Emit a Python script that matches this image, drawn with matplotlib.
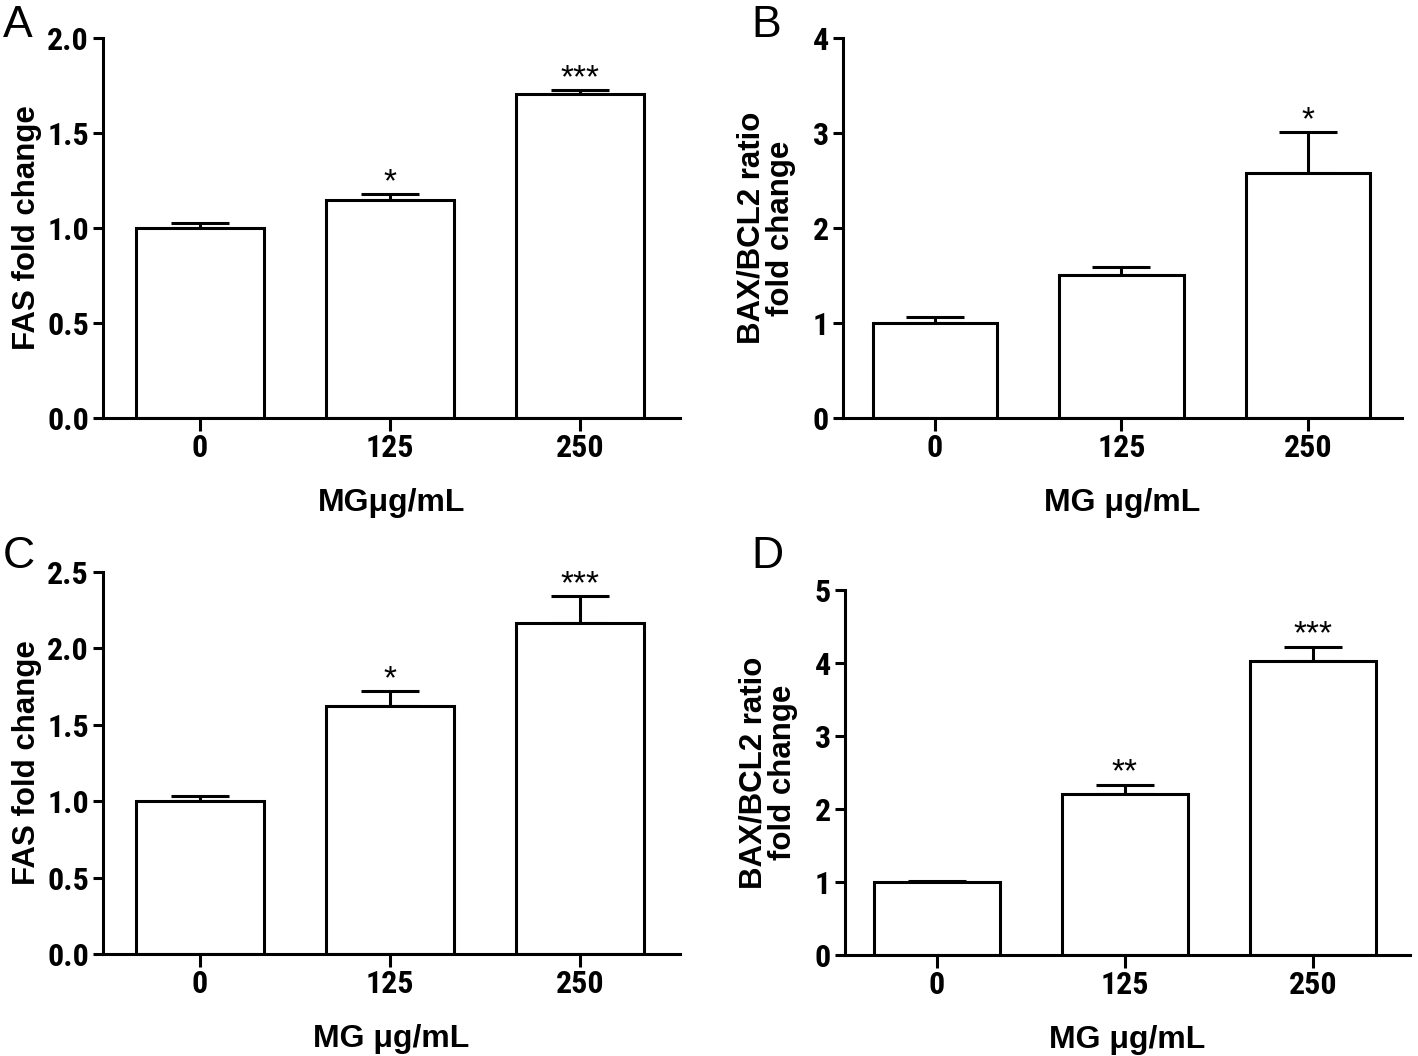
import matplotlib
matplotlib.use('Agg')
import matplotlib.pyplot as plt
from matplotlib import font_manager
import numpy as np

W, H = 1418, 1056

doses = ['0', '125', '250']

# panel A - FAS fold change
fas_a = [1.0, 1.145, 1.705]
fas_a_err = [0.025, 0.035, 0.023]
fas_a_sig = ['', '*', '***']

# panel B - BAX/BCL2 ratio
bax_b = [1.0, 1.5, 2.58]
bax_b_err = [0.06, 0.09, 0.43]
bax_b_sig = ['', '', '*']

# panel C - FAS fold change
fas_c = [1.0, 1.625, 2.165]
fas_c_err = [0.035, 0.095, 0.178]
fas_c_sig = ['', '*', '***']

# panel D - BAX/BCL2 ratio
bax_d = [1.0, 2.205, 4.025]
bax_d_err = [0.02, 0.13, 0.2]
bax_d_sig = ['', '**', '***']

LABFONT = ['Liberation Sans', 'DejaVu Sans']

# condensed font for tick labels if there is one
TICKFONT, TICKSIZE = LABFONT, 21
for fam in ['Liberation Sans Narrow', 'Roboto Condensed', 'Open Sans Condensed']:
    try:
        font_manager.findfont(font_manager.FontProperties(family=fam), fallback_to_default=False)
        TICKFONT, TICKSIZE = [fam] + LABFONT, 23
        break
    except Exception:
        pass
LW = 2.2


def make_axes(box, xlim):
    # box in pixels: left, top, right, bottom
    l, t, r, b = box
    ax = fig.add_axes([l / W, 1 - b / H, (r - l) / W, (b - t) / H])
    ax.set_xlim(*xlim)
    return ax


def draw_panel(ax, vals, errs, sig, ylim, yticks, yfmt, ylabel, xlabel, ylabpad, width):
    x = np.arange(len(vals))
    ax.errorbar(x, vals, yerr=[np.zeros(len(errs)), errs], fmt='none', ecolor='black',
                elinewidth=LW, capsize=21, capthick=LW, zorder=1)
    ax.bar(x, vals, width=width, color='white', edgecolor='black', linewidth=LW, zorder=2)
    for xi, v, e, s in zip(x, vals, errs, sig):
        if s:
            ax.annotate(s, (xi, v + e), xytext=(0, -3), textcoords='offset points',
                        ha='center', va='bottom', fontsize=24, family=LABFONT)
    ax.set_ylim(*ylim)
    ax.set_yticks(yticks)
    ax.set_yticklabels([yfmt.format(t) for t in yticks], family=TICKFONT,
                       fontsize=TICKSIZE, fontweight='bold')
    ax.set_xticks(x)
    ax.set_xticklabels(doses, family=TICKFONT, fontsize=TICKSIZE, fontweight='bold')
    for sp in ['top', 'right']:
        ax.spines[sp].set_visible(False)
    for sp in ['left', 'bottom']:
        ax.spines[sp].set_linewidth(LW)
    ax.tick_params(axis='y', direction='out', length=7, width=LW, pad=3)
    ax.tick_params(axis='x', direction='out', length=9, width=LW, pad=2)
    ax.set_ylabel(ylabel, family=LABFONT, fontsize=22.5, fontweight='bold',
                  labelpad=ylabpad, linespacing=1.0)
    ax.set_xlabel(xlabel, family=LABFONT, fontsize=23, fontweight='bold', labelpad=18)
    ax.set_facecolor('none')


fig = plt.figure(figsize=(W / 100, H / 100), dpi=100)

axA = make_axes((103, 38, 680, 418), (-0.51, 2.526))
draw_panel(axA, fas_a, fas_a_err, fas_a_sig, (0, 2.0), [0, 0.5, 1.0, 1.5, 2.0], '{:.1f}',
           'FAS fold change', 'MG\u03bcg/mL', 4, 0.67)

axB = make_axes((843, 38, 1402, 418), (-0.493, 2.504))
draw_panel(axB, bax_b, bax_b_err, bax_b_sig, (0, 4), [0, 1, 2, 3, 4], '{:d}',
           'BAX/BCL2 ratio\nfold change', 'MG \u03bcg/mL', 12, 0.667)

axC = make_axes((103, 572, 680, 954), (-0.51, 2.526))
draw_panel(axC, fas_c, fas_c_err, fas_c_sig, (0, 2.5), [0, 0.5, 1.0, 1.5, 2.0, 2.5], '{:.1f}',
           'FAS fold change', 'MG \u03bcg/mL', 4, 0.67)

axD = make_axes((845, 590, 1410, 955), (-0.489, 2.516))
draw_panel(axD, bax_d, bax_d_err, bax_d_sig, (0, 5), [0, 1, 2, 3, 4, 5], '{:d}',
           'BAX/BCL2 ratio\nfold change', 'MG \u03bcg/mL', 12, 0.667)

# panel letters, placed by baseline
for letter, px, py in [('A', 18, 37), ('B', 766, 37), ('C', 19, 568), ('D', 767, 568)]:
    fig.text(px / W, 1 - py / H, letter, ha='center', va='baseline', fontsize=32, family=LABFONT)

fig.savefig('out.png', dpi=100, facecolor='white')
